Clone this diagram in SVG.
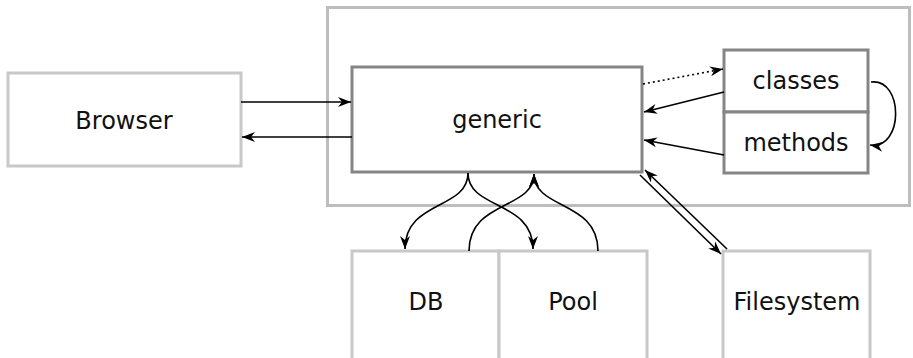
<svg xmlns="http://www.w3.org/2000/svg" width="913" height="358" viewBox="0 0 913 358">
<style>
.light{fill:#fff;stroke:#c8c8c8;stroke-width:3}
.outer{fill:#fff;stroke:#bdbdbd;stroke-width:3}
.dark{fill:#fff;stroke:#858585;stroke-width:3}
text{font-family:"DejaVu Sans",sans-serif;font-size:24px;fill:#111;text-anchor:middle}
.c{fill:none;stroke:#000;stroke-width:1.6}
</style>
<defs>
<marker id="ah" markerUnits="userSpaceOnUse" markerWidth="14" markerHeight="10" refX="13" refY="5" orient="auto">
<path d="M0,0 L13,5 L0,10 L4,5 z" fill="#000"/>
</marker>
</defs>
<rect id="container" class="outer" x="327.5" y="7.5" width="582" height="198"/>
<g id="browser"><rect class="light" x="8" y="73" width="233" height="93"/><text x="124" y="129">Browser</text></g>
<g id="generic"><rect class="dark" x="352" y="67" width="290" height="105"/><text x="497" y="128">generic</text></g>
<g id="classes"><rect class="dark" x="724" y="50" width="144" height="62"/><text x="796" y="89">classes</text></g>
<g id="methods"><rect class="dark" x="724" y="112" width="144" height="61"/><text x="796" y="151">methods</text></g>
<g id="db"><rect class="light" x="352" y="251" width="147" height="110"/><text x="426" y="310">DB</text></g>
<g id="pool"><rect class="light" x="499" y="251" width="148" height="110"/><text x="573" y="310">Pool</text></g>
<g id="filesystem"><rect class="light" x="723" y="251" width="147" height="110"/><text x="797" y="310">Filesystem</text></g>
<g id="connectors">
<path class="c" d="M241,102 L351,102" marker-end="url(#ah)"/>
<path class="c" d="M352,137 L242,137" marker-end="url(#ah)"/>
<path class="c" d="M643,84 L723,69" stroke-dasharray="2,3" marker-end="url(#ah)"/>
<path class="c" d="M724,92 L644,112" marker-end="url(#ah)"/>
<path class="c" d="M724,155 L644,140" marker-end="url(#ah)"/>
<path class="c" d="M871,82 C904,78 904,150 870,145" marker-end="url(#ah)"/>
<path class="c" d="M640,175 L721,254" marker-end="url(#ah)"/>
<path class="c" d="M727,249 L645,170" marker-end="url(#ah)"/>
<path class="c" d="M468,173 C468,210 405,200 405,249" marker-end="url(#ah)"/>
<path class="c" d="M468,173 C468,210 533,200 533,249" marker-end="url(#ah)"/>
<path class="c" d="M469,251 C469,200 534,210 534,174" marker-end="url(#ah)"/>
<path class="c" d="M598,251 C598,200 534,210 534,174" marker-end="url(#ah)"/>
</g>
</svg>
